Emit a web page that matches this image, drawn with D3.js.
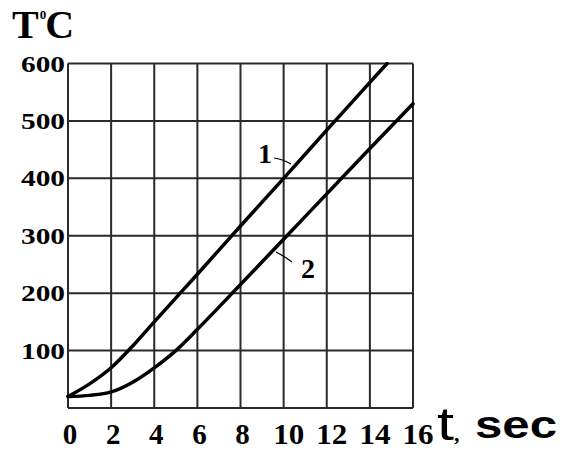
<!DOCTYPE html>
<html>
<head>
<meta charset="utf-8">
<script src="https://cdn.jsdelivr.net/npm/d3@7"></script>
<style>
  body { margin: 0; background: #fff; }
  svg { display: block; }
</style>
</head>
<body>
<div id="chart"></div>
<script>
// Data
const time1 = [0, 1, 2, 3, 4, 6, 8, 10, 12, 14, 14.8];
const temp1 = [20, 42, 70, 108, 150, 233, 317, 400, 484, 567, 600];
const time2 = [0, 1, 2, 3, 4, 5, 6, 8, 10, 12, 14, 16];
const temp2 = [20, 22, 28, 45, 70, 100, 137, 215, 294, 373, 452, 530];
const xTicks = [0, 2, 4, 6, 8, 10, 12, 14, 16];
const yTicks = [100, 200, 300, 400, 500, 600];

const width = 567, height = 451;
const plotLeft = 68, plotRight = 413, plotTop = 63.5, plotBottom = 408;

const svg = d3.select("#chart").append("svg")
    .attr("width", width)
    .attr("height", height);

const x = d3.scaleLinear().domain([0, 16]).range([plotLeft, plotRight]);
const y = d3.scaleLinear().domain([0, 600]).range([plotBottom, plotTop]);

const serif = "'Liberation Serif', 'Times New Roman', serif";

// grid
const grid = svg.append("g").attr("stroke", "#2a2a2a").attr("stroke-width", 2).attr("fill", "none");
grid.selectAll(".v").data(xTicks).join("line")
    .attr("class", "v")
    .attr("x1", d => x(d)).attr("x2", d => x(d))
    .attr("y1", y(600)).attr("y2", y(0));
grid.selectAll(".h").data([0].concat(yTicks)).join("line")
    .attr("class", "h")
    .attr("x1", x(0)).attr("x2", x(16))
    .attr("y1", d => y(d)).attr("y2", d => y(d));

// y tick labels
svg.append("g").selectAll("text").data(yTicks).join("text")
    .attr("x", plotLeft - 3)
    .attr("y", d => y(d) + 8)
    .attr("text-anchor", "end")
    .attr("font-family", serif)
    .attr("font-weight", "bold")
    .attr("font-size", 24)
    .attr("textLength", 44)
    .attr("lengthAdjust", "spacingAndGlyphs")
    .text(d => d);

// x tick labels
svg.append("g").selectAll("text").data(xTicks).join("text")
    .attr("x", d => x(d) + (d >= 10 ? 5 : 2))
    .attr("y", 444)
    .attr("text-anchor", "middle")
    .attr("font-family", serif)
    .attr("font-weight", "bold")
    .attr("font-size", 29)
    .attr("textLength", d => d >= 10 ? 31 : null)
    .attr("lengthAdjust", "spacingAndGlyphs")
    .text(d => d);

// axis titles
const yt = svg.append("text")
    .attr("x", 12).attr("y", 38)
    .attr("font-family", serif)
    .attr("font-weight", "bold")
    .attr("font-size", 40);
yt.append("tspan").text("T");
yt.append("tspan").attr("font-size", 13).attr("dy", -19).attr("dx", 1).text("0");
yt.append("tspan").attr("dy", 19).attr("dx", -1).text("C");

svg.append("text")
    .attr("x", 437).attr("y", 440)
    .attr("font-family", "'Liberation Sans', Arial, sans-serif")
    .attr("font-size", 46)
    .attr("textLength", 17)
    .attr("lengthAdjust", "spacingAndGlyphs")
    .text("t");
svg.append("text")
    .attr("x", 454).attr("y", 441)
    .attr("font-family", serif)
    .attr("font-weight", "bold")
    .attr("font-size", 22)
    .text(",");
svg.append("text")
    .attr("x", 475).attr("y", 438)
    .attr("font-family", "'Liberation Sans', Arial, sans-serif")
    .attr("font-weight", "bold")
    .attr("font-size", 39)
    .attr("textLength", 82)
    .attr("lengthAdjust", "spacingAndGlyphs")
    .text("sec");

// curves
const line = d3.line()
    .x(d => x(d[0]))
    .y(d => y(d[1]))
    .curve(d3.curveMonotoneX);

const series = [d3.zip(time1, temp1), d3.zip(time2, temp2)];
svg.append("g").selectAll("path").data(series).join("path")
    .attr("d", line)
    .attr("fill", "none")
    .attr("stroke", "#000")
    .attr("stroke-width", 3.5)
    .attr("stroke-linecap", "round");

// curve labels with leaders
svg.append("text")
    .attr("x", 258).attr("y", 163)
    .attr("font-family", serif).attr("font-weight", "bold").attr("font-size", 28)
    .text("1");
svg.append("path")
    .attr("d", "M274,158 Q282,159 291,164")
    .attr("fill", "none").attr("stroke", "#000").attr("stroke-width", 1.2);

svg.append("text")
    .attr("x", 301).attr("y", 278)
    .attr("font-family", serif).attr("font-weight", "bold").attr("font-size", 28)
    .text("2");
svg.append("path")
    .attr("d", "M276,252 Q284,256 292,262")
    .attr("fill", "none").attr("stroke", "#000").attr("stroke-width", 1.2);
</script>
</body>
</html>
